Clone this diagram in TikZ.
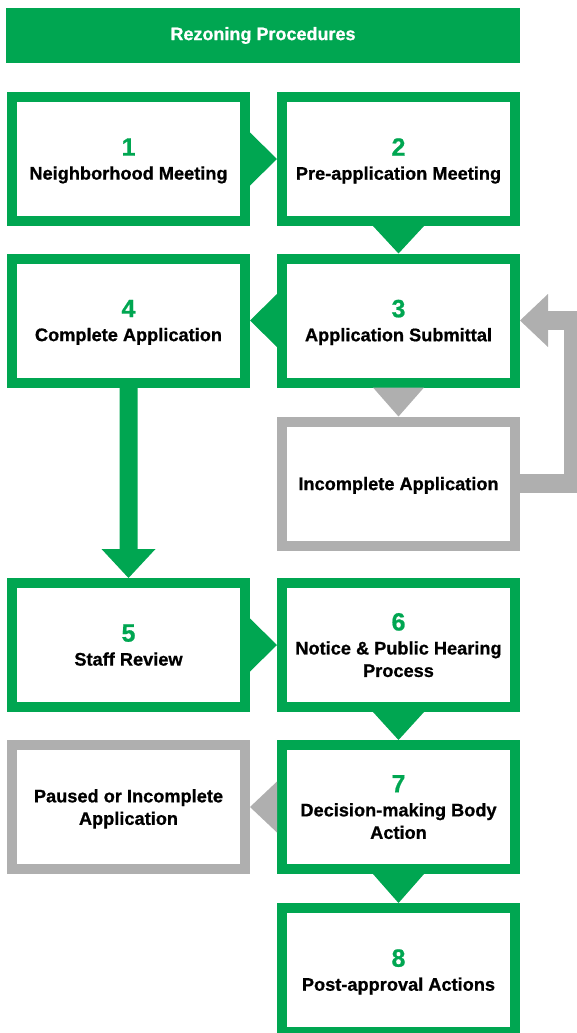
\documentclass[tikz,border=0pt]{standalone}
\usepackage{fontspec}
\setmainfont{Liberation Sans}[BoldFeatures={FakeBold=0.8}]
\usetikzlibrary{calc}
\definecolor{grn}{RGB}{0,166,81}
\definecolor{gry}{RGB}{175,175,175}
\newcommand\bignum[1]{{\fontsize{25}{25}\selectfont\color{grn}#1}}
\begin{document}
\begin{tikzpicture}[x=1pt,y=-1pt,
  box/.style={draw=grn, line width=10pt, minimum width=233pt, minimum height=124pt,
    inner sep=0pt, align=center, text=black, text depth=0pt,
    font=\bfseries\fontsize{18.2}{22.5}\selectfont},
  gbox/.style={box, draw=gry},
  gtri/.style={fill=grn},
  ytri/.style={fill=gry},
  titlebar/.style={fill=grn, minimum width=514pt, minimum height=55pt, inner sep=0pt,
    text=white, font=\bfseries\fontsize{18}{20}\selectfont}]
\useasboundingbox (0,0) rectangle (577,1033);
\clip (0,0) rectangle (577,1033);

\node[titlebar] (title) at (263,35.5) {Rezoning Procedures};

\node[box] (b1) at (128.5,159) {\bignum{1}\\[1.5pt]Neighborhood Meeting};
\node[box] (b2) at (398.5,159) {\bignum{2}\\[1.5pt]Pre-application Meeting};
\node[box] (b4) at (128.5,320.5) {\bignum{4}\\[1.5pt]Complete Application};
\node[box] (b3) at (398.5,320.5) {\bignum{3}\\[1.5pt]Application Submittal};
\node[gbox] (inc) at (398.5,483.5) {Incomplete Application};
\node[box] (b5) at (128.5,645) {\bignum{5}\\[1.5pt]Staff Review};
\node[box] (b6) at (398.5,645) {\bignum{6}\\[1.5pt]Notice \& Public Hearing\\Process};
\node[gbox] (paused) at (128.5,807) {Paused or Incomplete\\Application};
\node[box] (b7) at (398.5,807) {\bignum{7}\\[1.5pt]Decision-making Body\\Action};
\node[box] (b8) at (398.5,970) {\bignum{8}\\[1.5pt]Post-approval Actions};

% 1 -> 2
\fill[gtri] ($(b1.east)+(0,-26.5)$) -- (b2.west) -- ($(b1.east)+(0,26.5)$) -- cycle;
% 2 -> 3
\fill[gtri] ($(b2.south)+(-25.5,0)$) -- (b3.north) -- ($(b2.south)+(25.5,0)$) -- cycle;
% 3 -> 4
\fill[gtri] ($(b3.west)+(0,-26.5)$) -- (b4.east) -- ($(b3.west)+(0,26.5)$) -- cycle;
% 3 -> incomplete
\fill[ytri] ($(b3.south)+(-25.5,0)$) -- (inc.north) -- ($(b3.south)+(25.5,0)$) -- cycle;
% incomplete -> 3 (return)
\coordinate (rc) at (573,0);
\draw[gry, line width=19pt] (inc.east) -| (rc |- b3.east) -- ($(b3.east)+(27,0)$);
\fill[ytri] ($(b3.east)+(28,-26.5)$) -- (b3.east) -- ($(b3.east)+(28,26.5)$) -- cycle;
% 4 -> 5
\fill[gtri] ($(b4.south)+(-9,0)$) -- ($(b5.north)+(-9,-29)$) -- ($(b5.north)+(-27,-29)$)
  -- (b5.north) -- ($(b5.north)+(27,-29)$) -- ($(b5.north)+(9,-29)$)
  -- ($(b4.south)+(9,0)$) -- cycle;
% 5 -> 6
\fill[gtri] ($(b5.east)+(0,-26.5)$) -- (b6.west) -- ($(b5.east)+(0,26.5)$) -- cycle;
% 6 -> 7
\fill[gtri] ($(b6.south)+(-25.5,0)$) -- (b7.north) -- ($(b6.south)+(25.5,0)$) -- cycle;
% 7 -> paused
\fill[ytri] ($(b7.west)+(0,-25.5)$) -- (paused.east) -- ($(b7.west)+(0,25.5)$) -- cycle;
% 7 -> 8
\fill[gtri] ($(b7.south)+(-25.5,0)$) -- (b8.north) -- ($(b7.south)+(25.5,0)$) -- cycle;
\end{tikzpicture}
\end{document}
